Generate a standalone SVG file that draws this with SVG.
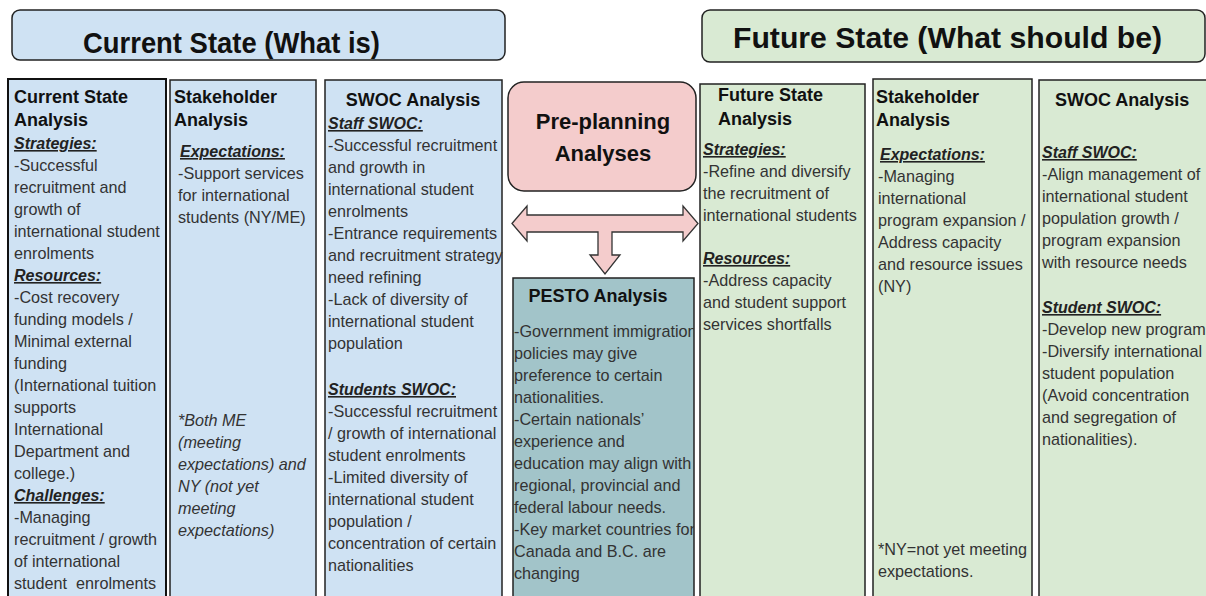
<svg xmlns="http://www.w3.org/2000/svg" width="1206" height="596" viewBox="0 0 1206 596">
<style>
.hdr{font-family:"Liberation Sans",Arial,sans-serif;font-weight:bold;font-size:30px;fill:#111}
.h{font-family:"Liberation Sans",Arial,sans-serif;font-weight:bold;font-size:18px;fill:#111}
.sub{font-family:"Liberation Sans",Arial,sans-serif;font-weight:bold;font-style:italic;font-size:16px;fill:#222;text-decoration:underline}
.b{font-family:"Liberation Sans",Arial,sans-serif;font-size:16.2px;fill:#333}
.i{font-family:"Liberation Sans",Arial,sans-serif;font-size:16.2px;font-style:italic;fill:#333}
.pp{font-family:"Liberation Sans",Arial,sans-serif;font-weight:bold;font-size:22px;fill:#111}
.blue{fill:#cfe2f3;stroke:#222;stroke-width:1.5}
.green{fill:#d9ead3;stroke:#222;stroke-width:1.5}
</style>
<defs>
<clipPath id="cp"><rect x="513" y="278" width="181" height="330"/></clipPath>
<clipPath id="cr"><rect x="1039" y="80" width="167" height="530"/></clipPath>
</defs>
<rect width="1206" height="596" fill="#fff"/>

<g id="current-header">
<rect x="12" y="10" width="493" height="50" rx="8" class="blue"/>
<text class="hdr" x="83" y="53" textLength="297" lengthAdjust="spacingAndGlyphs">Current State (What is)</text>
</g>

<g id="future-header">
<rect x="702" y="10" width="503" height="52" rx="8" class="green"/>
<text class="hdr" x="733" y="48" textLength="429" lengthAdjust="spacingAndGlyphs">Future State (What should be)</text>
</g>

<g id="current-state-analysis">
<rect x="8" y="79" width="158" height="530" fill="#cfe2f3" stroke="#111" stroke-width="2"/>
<text class="h" x="14" y="103">Current State</text>
<text class="h" x="14" y="126">Analysis</text>
<text class="sub" x="14" y="149">Strategies:</text>
<text class="b" x="14" y="171">-Successful</text>
<text class="b" x="14" y="193">recruitment and</text>
<text class="b" x="14" y="215">growth of</text>
<text class="b" x="14" y="237">international student</text>
<text class="b" x="14" y="259">enrolments</text>
<text class="sub" x="14" y="281">Resources:</text>
<text class="b" x="14" y="303">-Cost recovery</text>
<text class="b" x="14" y="325">funding models /</text>
<text class="b" x="14" y="347">Minimal external</text>
<text class="b" x="14" y="369">funding</text>
<text class="b" x="14" y="391">(International tuition</text>
<text class="b" x="14" y="413">supports</text>
<text class="b" x="14" y="435">International</text>
<text class="b" x="14" y="457">Department and</text>
<text class="b" x="14" y="479">college.)</text>
<text class="sub" x="14" y="501">Challenges:</text>
<text class="b" x="14" y="523">-Managing</text>
<text class="b" x="14" y="545">recruitment / growth</text>
<text class="b" x="14" y="567">of international</text>
<text class="b" x="14" y="589" xml:space="preserve">student  enrolments</text>
</g>

<g id="current-stakeholder">
<rect x="170" y="80" width="146" height="530" class="blue"/>
<text class="h" x="174" y="103">Stakeholder</text>
<text class="h" x="174" y="126">Analysis</text>
<text class="sub" x="180" y="157">Expectations:</text>
<text class="b" x="178" y="179">-Support services</text>
<text class="b" x="178" y="201">for international</text>
<text class="b" x="178" y="223">students (NY/ME)</text>
<text class="i" x="178" y="426">*Both ME</text>
<text class="i" x="178" y="448">(meeting</text>
<text class="i" x="178" y="470">expectations) and</text>
<text class="i" x="178" y="492">NY (not yet</text>
<text class="i" x="178" y="514">meeting</text>
<text class="i" x="178" y="536">expectations)</text>
</g>

<g id="current-swoc">
<rect x="325" y="80" width="177" height="530" class="blue"/>
<text class="h" x="413" y="106" text-anchor="middle">SWOC Analysis</text>
<text class="sub" x="328" y="129">Staff SWOC:</text>
<text class="b" x="328" y="151">-Successful recruitment</text>
<text class="b" x="328" y="173">and growth in</text>
<text class="b" x="328" y="195">international student</text>
<text class="b" x="328" y="217">enrolments</text>
<text class="b" x="328" y="239">-Entrance requirements</text>
<text class="b" x="328" y="261">and recruitment strategy</text>
<text class="b" x="328" y="283">need refining</text>
<text class="b" x="328" y="305">-Lack of diversity of</text>
<text class="b" x="328" y="327">international student</text>
<text class="b" x="328" y="349">population</text>
<text class="sub" x="328" y="395">Students SWOC:</text>
<text class="b" x="328" y="417">-Successful recruitment</text>
<text class="b" x="328" y="439">/ growth of international</text>
<text class="b" x="328" y="461">student enrolments</text>
<text class="b" x="328" y="483">-Limited diversity of</text>
<text class="b" x="328" y="505">international student</text>
<text class="b" x="328" y="527">population /</text>
<text class="b" x="328" y="549">concentration of certain</text>
<text class="b" x="328" y="571">nationalities</text>
</g>

<g id="pre-planning">
<rect x="508" y="82" width="188" height="109" rx="16" fill="#f4cccc" stroke="#222" stroke-width="1.5"/>
<text class="pp" x="603" y="129" text-anchor="middle">Pre-planning</text>
<text class="pp" x="603" y="161" text-anchor="middle">Analyses</text>
</g>

<g id="connectors">
<polygon points="512,223.5 527,206 527,215 683,215 683,206 698,223.5 683,241 683,232 612,232 612,255 620,255 605,274 590,255 598,255 598,232 527,232 527,241" fill="#f4cccc" stroke="#333" stroke-width="1.3" stroke-linejoin="miter"/>
</g>

<g id="pesto">
<rect x="513" y="278" width="181" height="330" fill="#a2c4c9" stroke="#222" stroke-width="1.5"/>
<text class="h" x="598" y="302" text-anchor="middle">PESTO Analysis</text>
<g clip-path="url(#cp)">
<text class="b" x="514" y="337">-Government immigration</text>
<text class="b" x="514" y="359">policies may give</text>
<text class="b" x="514" y="381">preference to certain</text>
<text class="b" x="514" y="403">nationalities.</text>
<text class="b" x="514" y="425">-Certain nationals’</text>
<text class="b" x="514" y="447">experience and</text>
<text class="b" x="514" y="469">education may align with</text>
<text class="b" x="514" y="491">regional, provincial and</text>
<text class="b" x="514" y="513">federal labour needs.</text>
<text class="b" x="514" y="535">-Key market countries for</text>
<text class="b" x="514" y="557">Canada and B.C. are</text>
<text class="b" x="514" y="579">changing</text>
</g>
</g>

<g id="future-state-analysis">
<rect x="700" y="84" width="165" height="526" class="green"/>
<text class="h" x="718" y="101">Future State</text>
<text class="h" x="718" y="125">Analysis</text>
<text class="sub" x="703" y="155">Strategies:</text>
<text class="b" x="703" y="177">-Refine and diversify</text>
<text class="b" x="703" y="199">the recruitment of</text>
<text class="b" x="703" y="221">international students</text>
<text class="sub" x="703" y="264">Resources:</text>
<text class="b" x="703" y="286">-Address capacity</text>
<text class="b" x="703" y="308">and student support</text>
<text class="b" x="703" y="330">services shortfalls</text>
</g>

<g id="future-stakeholder">
<rect x="873" y="79" width="159" height="531" class="green"/>
<text class="h" x="876" y="103">Stakeholder</text>
<text class="h" x="876" y="126">Analysis</text>
<text class="sub" x="880" y="160">Expectations:</text>
<text class="b" x="878" y="182">-Managing</text>
<text class="b" x="878" y="204">international</text>
<text class="b" x="878" y="226">program expansion /</text>
<text class="b" x="878" y="248">Address capacity</text>
<text class="b" x="878" y="270">and resource issues</text>
<text class="b" x="878" y="292">(NY)</text>
<text class="b" x="878" y="555">*NY=not yet meeting</text>
<text class="b" x="878" y="577">expectations.</text>
</g>

<g id="future-swoc">
<rect x="1039" y="80" width="180" height="530" class="green"/>
<g clip-path="url(#cr)">
<text class="h" x="1055" y="106">SWOC Analysis</text>
<text class="sub" x="1042" y="158">Staff SWOC:</text>
<text class="b" x="1042" y="180">-Align management of</text>
<text class="b" x="1042" y="202">international student</text>
<text class="b" x="1042" y="224">population growth /</text>
<text class="b" x="1042" y="246">program expansion</text>
<text class="b" x="1042" y="268">with resource needs</text>
<text class="sub" x="1042" y="313">Student SWOC:</text>
<text class="b" x="1042" y="335">-Develop new programs</text>
<text class="b" x="1042" y="357">-Diversify international</text>
<text class="b" x="1042" y="379">student population</text>
<text class="b" x="1042" y="401">(Avoid concentration</text>
<text class="b" x="1042" y="423">and segregation of</text>
<text class="b" x="1042" y="445">nationalities).</text>
</g>
</g>
</svg>
